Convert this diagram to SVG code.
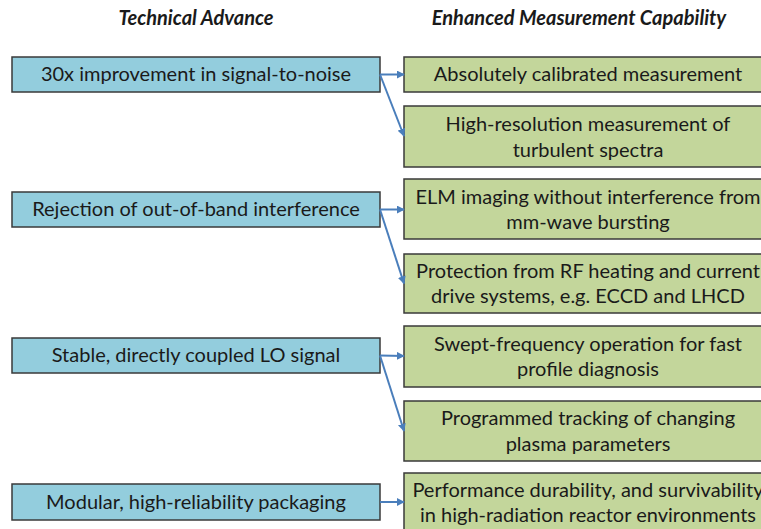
<svg xmlns="http://www.w3.org/2000/svg" width="761" height="529" viewBox="0 0 761 529">
  <style>
    .hdr { font-family: Lato, "Liberation Sans", sans-serif; font-size: 20px; font-weight: bold; font-style: italic; fill: #1a1a1a; text-anchor: middle; }
    .adv rect { fill: #93CDDD; stroke: #3a3a3a; stroke-width: 1.5; }
    .cap rect { fill: #C3D69B; stroke: #3a3a3a; stroke-width: 1.5; }
    .lbl { font-family: Lato, "Liberation Sans", sans-serif; font-size: 20px; fill: #1a1a1a; text-anchor: middle; }
    .conn { stroke: #4A7EBB; stroke-width: 2; fill: none; marker-end: url(#arrow); }
  </style>
  <defs>
    <marker id="arrow" viewBox="0 0 10 10" refX="9" refY="5" markerWidth="4" markerHeight="4" orient="auto" markerUnits="strokeWidth">
      <path d="M0,0 L10,5 L0,10 z" fill="#4A7EBB"/>
    </marker>
  </defs>
  <rect width="761" height="529" fill="#ffffff"/>

  <!-- column headings -->
  <text class="hdr" x="196" y="25">Technical Advance</text>
  <text class="hdr" x="579" y="25">Enhanced Measurement Capability</text>

  <!-- technical advances -->
  <g id="adv-snr" class="adv">
    <rect x="12" y="57" width="368" height="35"/>
    <text class="lbl" x="196" y="81">30x improvement in signal-to-noise</text>
  </g>
  <g id="adv-rejection" class="adv">
    <rect x="12" y="192" width="368" height="35"/>
    <text class="lbl" x="196" y="216">Rejection of out-of-band interference</text>
  </g>
  <g id="adv-lo" class="adv">
    <rect x="12" y="338" width="368" height="35"/>
    <text class="lbl" x="196" y="362">Stable, directly coupled LO signal</text>
  </g>
  <g id="adv-packaging" class="adv">
    <rect x="12" y="484" width="368" height="36"/>
    <text class="lbl" x="196" y="509">Modular, high-reliability packaging</text>
  </g>

  <!-- measurement capabilities -->
  <g id="cap-calibrated" class="cap">
    <rect x="404" y="57" width="368" height="35"/>
    <text class="lbl" x="588" y="81">Absolutely calibrated measurement</text>
  </g>
  <g id="cap-turbulence" class="cap">
    <rect x="404" y="106" width="368" height="61"/>
    <text class="lbl" x="588" y="131">High-resolution measurement of</text>
    <text class="lbl" x="588" y="157">turbulent spectra</text>
  </g>
  <g id="cap-elm" class="cap">
    <rect x="404" y="179" width="368" height="60"/>
    <text class="lbl" x="588" y="204">ELM imaging without interference from</text>
    <text class="lbl" x="588" y="229">mm-wave bursting</text>
  </g>
  <g id="cap-rf" class="cap">
    <rect x="404" y="254" width="368" height="59"/>
    <text class="lbl" x="588" y="278">Protection from RF heating and current</text>
    <text class="lbl" x="588" y="303">drive systems, e.g. ECCD and LHCD</text>
  </g>
  <g id="cap-swept" class="cap">
    <rect x="404" y="326" width="368" height="61"/>
    <text class="lbl" x="588" y="351">Swept-frequency operation for fast</text>
    <text class="lbl" x="588" y="376">profile diagnosis</text>
  </g>
  <g id="cap-tracking" class="cap">
    <rect x="404" y="401" width="368" height="60"/>
    <text class="lbl" x="588" y="425">Programmed tracking of changing</text>
    <text class="lbl" x="588" y="451">plasma parameters</text>
  </g>
  <g id="cap-durability" class="cap">
    <rect x="404" y="473" width="368" height="62"/>
    <text class="lbl" x="588" y="497">Performance durability, and survivability</text>
    <text class="lbl" x="588" y="522">in high-radiation reactor environments</text>
  </g>

  <!-- connectors -->
  <g id="connectors">
    <path class="conn" d="M380,74.5 L404,74.5"/>
    <path class="conn" d="M380,74.5 L404,136"/>
    <path class="conn" d="M380,209.5 L404,209.5"/>
    <path class="conn" d="M380,209.5 L404,283.5"/>
    <path class="conn" d="M380,355.5 L404,356"/>
    <path class="conn" d="M380,355.5 L404,431"/>
    <path class="conn" d="M380,502 L404,502"/>
  </g>
</svg>
